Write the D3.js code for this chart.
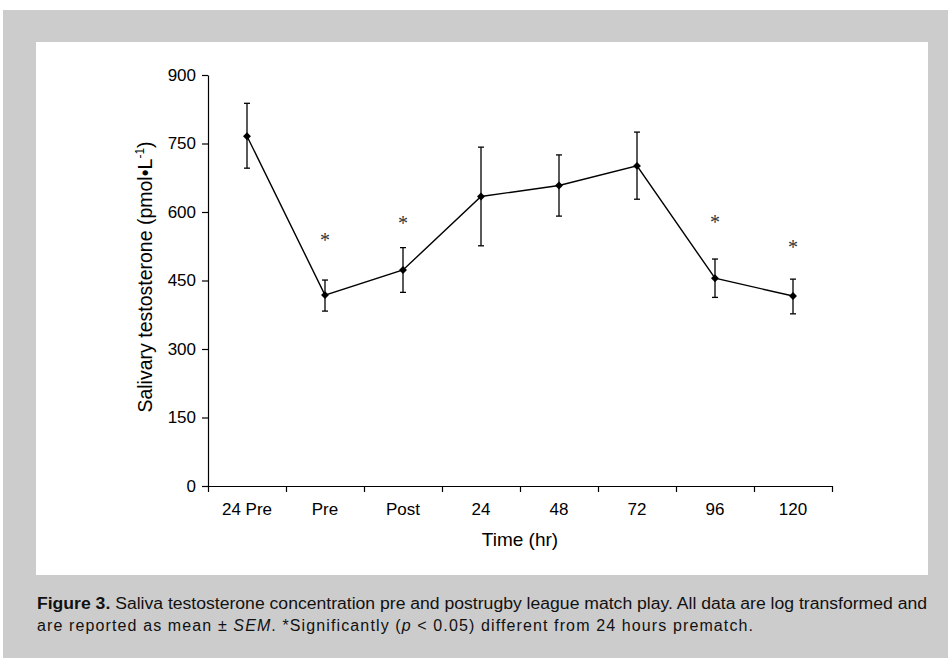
<!DOCTYPE html>
<html>
<head>
<meta charset="utf-8">
<script src="https://cdn.jsdelivr.net/npm/d3@7"></script>
<style>
  html, body { margin: 0; padding: 0; background: #fff; }
  svg { display: block; }
</style>
</head>
<body>
<svg id="chart" width="948" height="658"></svg>
<script>
const timepoints = ["24 Pre", "Pre", "Post", "24", "48", "72", "96", "120"];
const meanValues = [766, 418, 473, 634, 658, 701, 455, 416];
const upperValues = [838, 451, 522, 742, 725, 775, 497, 453];
const lowerValues = [696, 383, 424, 526, 591, 628, 413, 377];
const significant = [false, true, true, false, false, false, true, true];
const asteriskLevels = [0, 545, 582, 0, 0, 0, 584, 529];
const yTicks = [0, 150, 300, 450, 600, 750, 900];

const INK = "#000";
const FRAME = "#cccccc";

const svg = d3.select("#chart");

// gray frame and white plot panel
svg.append("rect").attr("x", 3).attr("y", 10).attr("width", 945).attr("height", 648).attr("fill", FRAME);
svg.append("rect").attr("x", 36).attr("y", 42).attr("width", 892).attr("height", 533).attr("fill", "#fff");

const plotLeft = 208, plotRight = 832, plotTop = 75, plotBottom = 486;

const x = d3.scaleBand().domain(timepoints).range([plotLeft, plotRight]).padding(0);
const xEdges = d3.scaleLinear().domain([0, timepoints.length]).range([plotLeft, plotRight]);
const y = d3.scaleLinear().domain([0, 900]).range([plotBottom, plotTop]);

const tickFont = "Liberation Sans, Arial, sans-serif";

// y axis
const yAxis = svg.append("g")
  .attr("transform", `translate(${plotLeft},0)`)
  .call(d3.axisLeft(y).tickValues(yTicks).tickSize(6).tickSizeOuter(0).tickPadding(6));

// x axis: tick marks at band edges, labels at band centres
const xTicks = svg.append("g")
  .attr("transform", `translate(0,${plotBottom})`)
  .call(d3.axisBottom(xEdges).tickValues(d3.range(0, timepoints.length + 1)).tickFormat("").tickSize(6).tickSizeOuter(0));

const xLabels = svg.append("g")
  .attr("transform", `translate(0,${plotBottom})`)
  .call(d3.axisBottom(x).tickSize(0).tickPadding(17));
xLabels.select(".domain").remove();

[yAxis, xTicks, xLabels].forEach(a => {
  a.selectAll("path, line").attr("stroke", INK).attr("stroke-width", 1.2);
  a.selectAll("text").attr("font-family", tickFont).attr("font-size", 17).attr("fill", INK);
});

// axis titles
svg.append("text")
  .attr("x", (plotLeft + plotRight) / 2)
  .attr("y", 546)
  .attr("text-anchor", "middle")
  .attr("font-family", tickFont)
  .attr("font-size", 19)
  .attr("fill", INK)
  .text("Time (hr)");

const yTitle = svg.append("text")
  .attr("transform", "translate(152,277) rotate(-90)")
  .attr("text-anchor", "middle")
  .attr("font-family", tickFont)
  .attr("font-size", 19.5)
  .attr("fill", INK);
yTitle.append("tspan").text("Salivary testosterone (pmol\u2022L");
yTitle.append("tspan").attr("dy", -8).attr("font-size", 12).text("-1");
yTitle.append("tspan").attr("dy", 8).text(")");

const cx = i => x(timepoints[i]) + x.bandwidth() / 2;

// error bars
const bars = svg.append("g").attr("stroke", INK).attr("stroke-width", 1.3);
meanValues.forEach((m, i) => {
  bars.append("line").attr("x1", cx(i)).attr("x2", cx(i)).attr("y1", y(upperValues[i])).attr("y2", y(lowerValues[i]));
  [upperValues[i], lowerValues[i]].forEach(v => {
    bars.append("line").attr("x1", cx(i) - 3).attr("x2", cx(i) + 3).attr("y1", y(v)).attr("y2", y(v));
  });
});

// mean line
const line = d3.line().x((d, i) => cx(i)).y(d => y(d));
svg.append("path")
  .datum(meanValues)
  .attr("fill", "none")
  .attr("stroke", INK)
  .attr("stroke-width", 1.4)
  .attr("d", line);

// diamond markers
svg.append("g").selectAll("path")
  .data(meanValues)
  .join("path")
  .attr("transform", (d, i) => `translate(${cx(i)},${y(d)})`)
  .attr("d", d3.symbol(d3.symbolDiamond2, 40)())
  .attr("fill", INK);

// significance asterisks
svg.append("g").selectAll("text")
  .data(asteriskLevels.map((v, i) => ({ v, i })).filter(d => significant[d.i]))
  .join("text")
  .attr("x", d => cx(d.i))
  .attr("y", d => y(d.v) + 10)
  .attr("text-anchor", "middle")
  .attr("font-family", "Liberation Serif, Times New Roman, serif")
  .attr("font-size", 20)
  .attr("fill", "#333")
  .text("*");

// caption
const capFont = "Liberation Sans, Arial, sans-serif";
const cap1 = svg.append("text")
  .attr("x", 37).attr("y", 609)
  .attr("font-family", capFont).attr("font-size", 16).attr("fill", "#111")
  .attr("textLength", 890).attr("lengthAdjust", "spacingAndGlyphs");
cap1.append("tspan").attr("font-weight", "bold").text("Figure 3.");
cap1.append("tspan").text(" Saliva testosterone concentration pre and postrugby league match play. All data are log transformed and");

const cap2 = svg.append("text")
  .attr("x", 37).attr("y", 631)
  .attr("font-family", capFont).attr("font-size", 16).attr("fill", "#111")
  .attr("textLength", 716).attr("lengthAdjust", "spacing");
cap2.append("tspan").text("are reported as mean \u00b1 ");
cap2.append("tspan").attr("font-style", "italic").text("SEM");
cap2.append("tspan").text(". *Significantly (");
cap2.append("tspan").attr("font-style", "italic").text("p");
cap2.append("tspan").text(" < 0.05) different from 24 hours prematch.");
</script>
</body>
</html>
